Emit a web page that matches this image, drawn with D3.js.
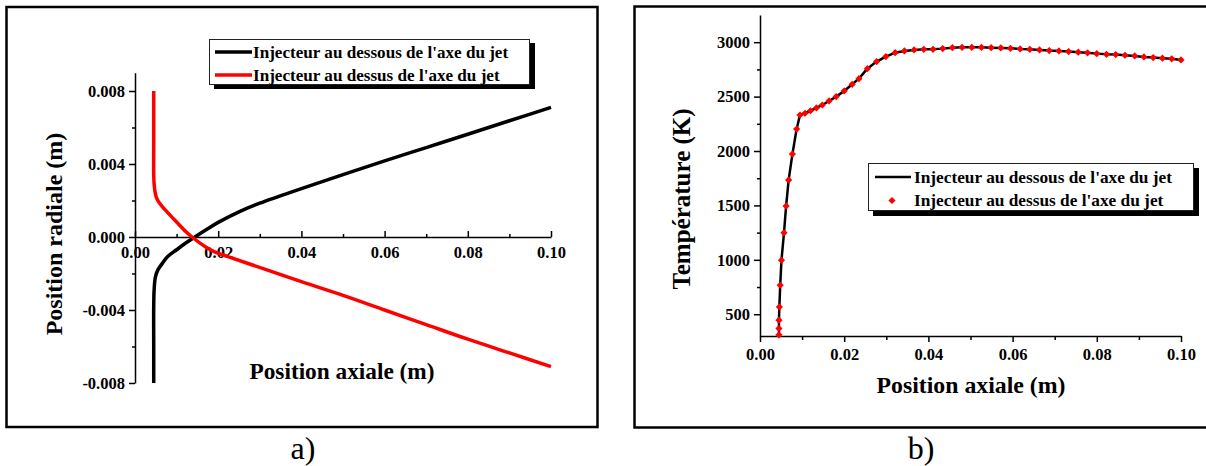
<!DOCTYPE html>
<html><head><meta charset="utf-8">
<script src="https://cdn.jsdelivr.net/npm/d3@7"></script>
<style>
body{margin:0;background:#fff}
svg{display:block}
text{font-family:"Liberation Serif","Times New Roman",serif}
</style>
</head><body>
<svg id="c" width="1206" height="466"></svg>
<script>
// ---------- DATA ----------
// Panel a) : radial position vs axial position
const belowX = [0.0045,0.0045,0.0045,0.0046,0.0049,0.0055,0.0064,0.0078,0.0100,0.0122,0.0144,0.017,0.020,0.025,0.030,0.040,0.050,0.060,0.070,0.080,0.090,0.100];
const belowY = [-0.008,-0.006,-0.0038,-0.0029,-0.0022,-0.0018,-0.0015,-0.00108,-0.0007,-0.00033,0.0000,0.00038,0.0008,0.00138,0.00185,0.00265,0.00342,0.00417,0.0049,0.00563,0.00637,0.0071];
const aboveX = [0.0045,0.0045,0.0045,0.0046,0.0048,0.0051,0.0056,0.0065,0.0077,0.0100,0.0122,0.0137,0.017,0.019,0.022,0.0317,0.040,0.050,0.060,0.070,0.080,0.090,0.100];
const aboveY = [0.008,0.005,0.0034,0.0029,0.0025,0.0022,0.00195,0.00168,0.00138,0.00082,0.0003,0.0000,-0.00055,-0.0008,-0.00105,-0.0018,-0.00245,-0.0032,-0.0040,-0.0048,-0.0056,-0.00635,-0.0071];
const radialTicks = [-0.008,-0.004,0,0.004,0.008];
const radialMinor = [-0.006,-0.002,0.002,0.006];
const axialTicks = [0,0.02,0.04,0.06,0.08,0.10];
const axialMinor = [0.01,0.03,0.05,0.07,0.09];

// Panel b) : temperature vs axial position
const tempX = [0.0045,0.0045,0.0045,0.0046,0.0048,0.0051,0.0057,0.0062,0.0068,0.0077,0.0087,0.0095,0.0107,0.0120,0.0134,0.0148,0.0164,0.0181,0.0200,0.0219,0.0235,0.0255,0.0277,0.0299,0.0321,0.0343,0.0366,0.0389,0.0411,0.0434,0.0457,0.0480,0.0503,0.0526,0.0549,0.0572,0.0595,0.0618,0.0641,0.0664,0.0687,0.0710,0.0733,0.0756,0.0778,0.0800,0.0823,0.0845,0.0867,0.0890,0.0912,0.0934,0.0956,0.0978,0.1000];
const tempBelow = [311,369,445,567,767,997,1248,1494,1733,1972,2202,2331,2347,2370,2396,2423,2460,2500,2552,2613,2665,2757,2822,2868,2904,2920,2929,2935,2935,2941,2950,2953,2953,2953,2950,2947,2944,2938,2935,2929,2923,2920,2914,2908,2902,2895,2889,2886,2880,2874,2865,2859,2853,2847,2837];
const tempAbove = [311,369,445,567,767,997,1248,1494,1733,1972,2202,2331,2347,2370,2396,2423,2460,2500,2552,2613,2665,2757,2822,2868,2904,2920,2929,2935,2935,2941,2950,2953,2953,2953,2950,2947,2944,2938,2935,2929,2923,2920,2914,2908,2902,2895,2889,2886,2880,2874,2865,2859,2853,2847,2837];
const tempTicks = [500,1000,1500,2000,2500,3000];
const tempMinor = [750,1250,1750,2250,2750];

const legendLabels = ["Injecteur au dessous de l'axe du jet","Injecteur au dessus de l'axe du jet"];
const colors = ["#000000","#ff0000"];

// ---------- DRAW ----------
const svg = d3.select("#c");
const FONT = '"Liberation Serif","Times New Roman",serif';
const TICKFONT = 16.5;

function styleAxis(g, size){
  g.attr("font-family", FONT).attr("font-size", size).attr("font-weight","bold");
  g.selectAll("path,line").attr("stroke","#000").attr("stroke-width",1.5);
  g.selectAll("text").attr("fill","#000");
}

// frames
svg.append("rect").attr("x",6.5).attr("y",7).attr("width",591).attr("height",420)
  .attr("fill","none").attr("stroke","#000").attr("stroke-width",2.5);
svg.append("rect").attr("x",634.5).attr("y",6.5).attr("width",600).attr("height",421)
  .attr("fill","none").attr("stroke","#000").attr("stroke-width",2.5);

// ===== Panel a =====
const xL = d3.scaleLinear().domain([0,0.1]).range([135,551]);
const yL = d3.scaleLinear().domain([-0.008,0.009]).range([383,72.75]);

const gyL = svg.append("g").attr("transform",`translate(${xL(0)},0)`)
  .call(d3.axisLeft(yL).tickValues(radialTicks).tickSizeInner(6).tickSizeOuter(0).tickPadding(4).tickFormat(d=>d.toFixed(3)));
styleAxis(gyL,TICKFONT);
const gyLm = svg.append("g").attr("transform",`translate(${xL(0)},0)`)
  .call(d3.axisLeft(yL).tickValues(radialMinor).tickSize(3).tickFormat(""));
gyLm.select(".domain").remove(); styleAxis(gyLm,TICKFONT);

const gxL = svg.append("g").attr("transform",`translate(0,${yL(0)})`)
  .call(d3.axisBottom(xL).tickValues(axialTicks).tickSizeInner(-6).tickSizeOuter(0).tickPadding(9).tickFormat(d=>d.toFixed(2)));
styleAxis(gxL,TICKFONT);
const gxLm = svg.append("g").attr("transform",`translate(0,${yL(0)})`)
  .call(d3.axisBottom(xL).tickValues(axialMinor).tickSizeInner(-3).tickSizeOuter(0).tickFormat(""));
gxLm.select(".domain").remove(); styleAxis(gxLm,TICKFONT);

const lineL = d3.line().x(d=>xL(d[0])).y(d=>yL(d[1])).curve(d3.curveCatmullRom.alpha(0.5));
svg.append("path").datum(belowX.map((x,i)=>[x,belowY[i]]))
  .attr("d",lineL).attr("fill","none").attr("stroke",colors[0]).attr("stroke-width",3.5);
svg.append("path").datum(aboveX.map((x,i)=>[x,aboveY[i]]))
  .attr("d",lineL).attr("fill","none").attr("stroke",colors[1]).attr("stroke-width",3.5);

// axis titles a
svg.append("text").attr("transform","translate(62,234) rotate(-90)").attr("text-anchor","middle")
  .attr("font-size",24).attr("font-weight","bold").text("Position radiale (m)");
svg.append("text").attr("x",342).attr("y",379).attr("text-anchor","middle")
  .attr("font-size",23.3).attr("font-weight","bold").text("Position axiale (m)");

// legend a
const lgA = svg.append("g");
lgA.append("rect").attr("x",214).attr("y",43).attr("width",321).attr("height",46).attr("fill","#000");
lgA.append("rect").attr("x",209.5).attr("y",39.5).attr("width",320).attr("height",45).attr("fill","#fff").attr("stroke","#222").attr("stroke-width",1);
legendLabels.forEach((t,i)=>{
  const y = 52 + i*23;
  lgA.append("line").attr("x1",215).attr("x2",252).attr("y1",y).attr("y2",y).attr("stroke",colors[i]).attr("stroke-width",3.5);
  lgA.append("text").attr("x",253).attr("y",y+5.5).attr("font-size",17.1).attr("font-weight","bold").text(t);
});

svg.append("text").attr("x",303).attr("y",459).attr("text-anchor","middle").attr("font-size",32).text("a)");

// ===== Panel b =====
const xR = d3.scaleLinear().domain([0,0.1]).range([760,1181]);
const yR = d3.scaleLinear().domain([300,3250]).range([336,15]);

const gyR = svg.append("g").attr("transform",`translate(${xR(0)},0)`)
  .call(d3.axisLeft(yR).tickValues(tempTicks).tickSizeInner(6).tickSizeOuter(0).tickPadding(4).tickFormat(d3.format("d")));
styleAxis(gyR,TICKFONT);
const gyRm = svg.append("g").attr("transform",`translate(${xR(0)},0)`)
  .call(d3.axisLeft(yR).tickValues(tempMinor).tickSize(3).tickFormat(""));
gyRm.select(".domain").remove(); styleAxis(gyRm,TICKFONT);

const gxR = svg.append("g").attr("transform",`translate(0,${yR(300)})`)
  .call(d3.axisBottom(xR).tickValues(axialTicks).tickSizeInner(6).tickSizeOuter(0).tickPadding(6).tickFormat(d=>d.toFixed(2)));
styleAxis(gxR,TICKFONT);
const gxRm = svg.append("g").attr("transform",`translate(0,${yR(300)})`)
  .call(d3.axisBottom(xR).tickValues(axialMinor).tickSize(4).tickFormat(""));
gxRm.select(".domain").remove(); styleAxis(gxRm,TICKFONT);

const lineR = d3.line().x(d=>xR(d[0])).y(d=>yR(d[1]));
svg.append("path").datum(tempX.map((x,i)=>[x,tempBelow[i]]))
  .attr("d",lineR).attr("fill","none").attr("stroke","#000").attr("stroke-width",2.5).attr("stroke-linejoin","round");

const diamond = (cx,cy,r)=>`M${cx},${cy-r}L${cx+r},${cy}L${cx},${cy+r}L${cx-r},${cy}Z`;
svg.append("g").selectAll("path").data(tempX.map((x,i)=>[x,tempAbove[i]])).join("path")
  .attr("d",d=>diamond(xR(d[0]),yR(d[1]),3.6)).attr("fill","#ff0000");

svg.append("text").attr("transform","translate(690,199) rotate(-90)").attr("text-anchor","middle")
  .attr("font-size",25).attr("font-weight","bold").text("Température (K)");
svg.append("text").attr("x",971).attr("y",393).attr("text-anchor","middle")
  .attr("font-size",23.8).attr("font-weight","bold").text("Position axiale (m)");

// legend b
const lgB = svg.append("g");
lgB.append("rect").attr("x",873).attr("y",168).attr("width",326).attr("height",48).attr("fill","#000");
lgB.append("rect").attr("x",868.5).attr("y",163.5).attr("width",325).attr("height",47).attr("fill","#fff").attr("stroke","#222").attr("stroke-width",1);
lgB.append("line").attr("x1",875).attr("x2",911).attr("y1",177).attr("y2",177).attr("stroke","#000").attr("stroke-width",2.5);
lgB.append("path").attr("d",diamond(892,200.5,3.6)).attr("fill","#ff0000");
legendLabels.forEach((t,i)=>{
  lgB.append("text").attr("x",914).attr("y",183+i*23).attr("font-size",17.3).attr("font-weight","bold").text(t);
});

svg.append("text").attr("x",921).attr("y",459).attr("text-anchor","middle").attr("font-size",32).text("b)");
</script>
</body></html>
